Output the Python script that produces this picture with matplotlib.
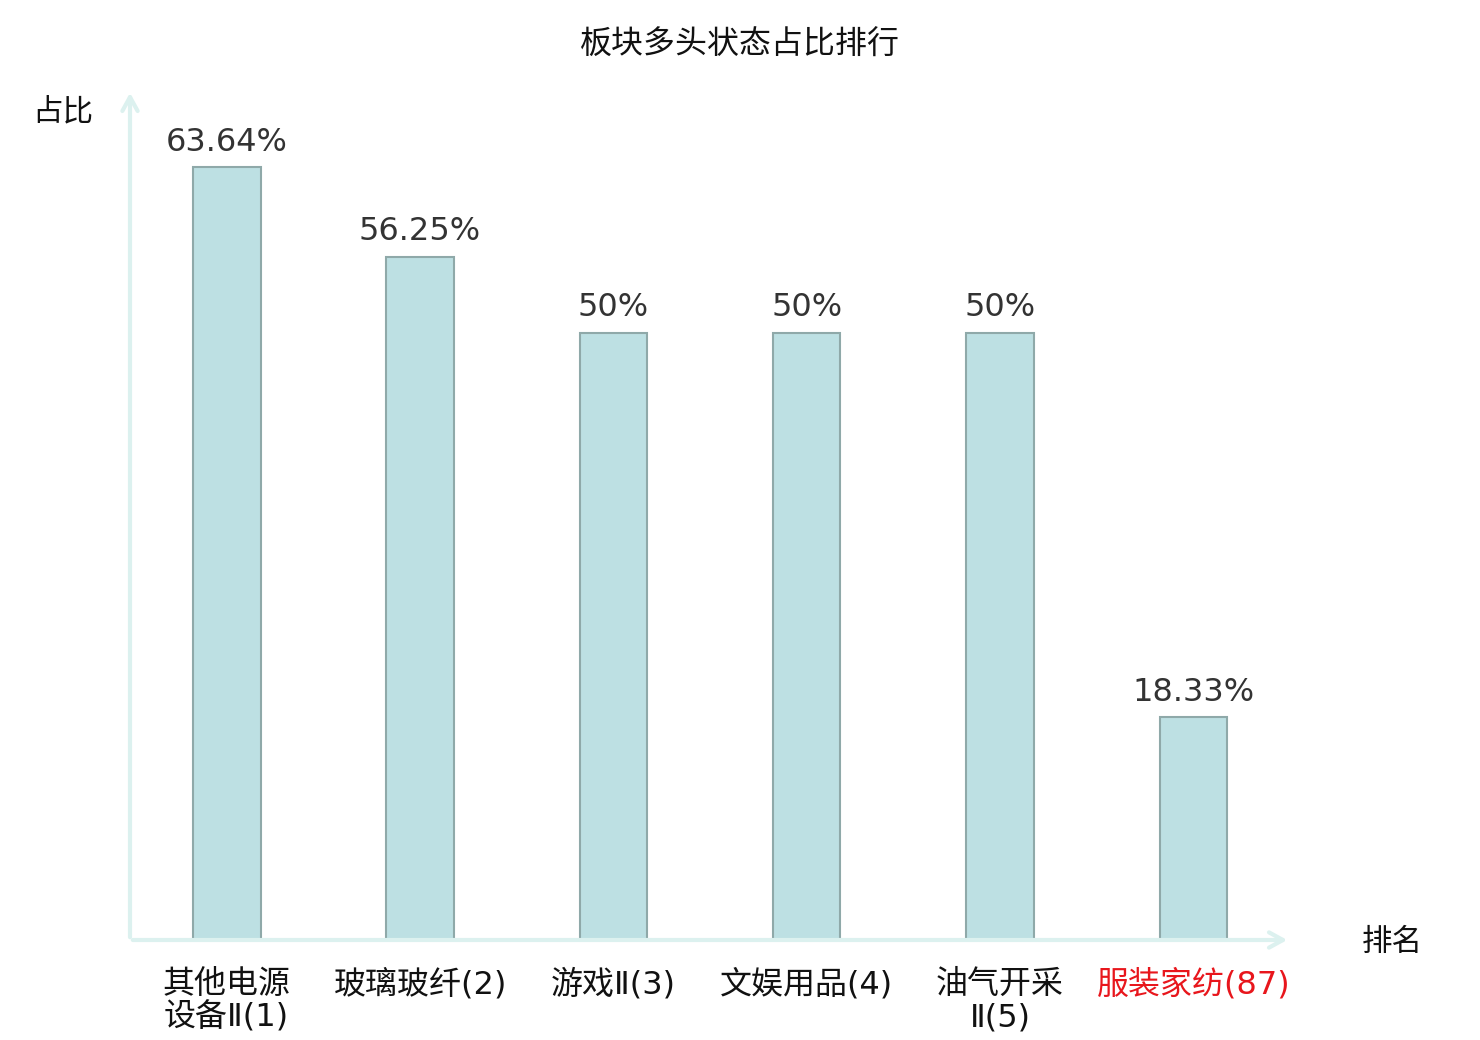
import matplotlib.pyplot as plt

plt.rcParams['font.family'] = ['Noto Sans CJK SC', 'DejaVu Sans']

# datos del gráfico
sectores = ['其他电源\n设备Ⅱ(1)', '玻璃玻纤(2)', '游戏Ⅱ(3)', '文娱用品(4)', '油气开采\nⅡ(5)', '服装家纺(87)']
valores = [63.64, 56.25, 50, 50, 50, 18.33]
etiquetas_valor = ['63.64%', '56.25%', '50%', '50%', '50%', '18.33%']
colores_texto = ['#111111', '#111111', '#111111', '#111111', '#111111', '#e8161c']

color_barra = '#bde0e3'
color_borde = '#8fa9a9'
color_eje = '#dcf1ef'

fig = plt.figure(figsize=(14.8, 10.4), dpi=100)
ax = fig.add_axes([130 / 1480, 100 / 1040, 1160 / 1480, 850 / 1040])

x = list(range(len(sectores)))
ax.bar(x, valores, width=0.35, color=color_barra, edgecolor=color_borde, linewidth=1.5, zorder=3)

for xi, v, txt in zip(x, valores, etiquetas_valor):
    ax.annotate(txt, (xi, v), xytext=(0, 7), textcoords='offset points',
                ha='center', va='bottom', fontsize=23, color='#333333',
                family='DejaVu Sans')

ax.set_xlim(-0.5, 5.5)
ax.set_ylim(0, 70)

for s in ax.spines.values():
    s.set_visible(False)
ax.set_yticks([])
ax.set_xticks(x)
ax.set_xticklabels(sectores, fontsize=23, linespacing=1.08,
                   family=['DejaVu Sans', 'Noto Sans CJK SC'])
for lbl, c in zip(ax.get_xticklabels(), colores_texto):
    lbl.set_color(c)
ax.tick_params(axis='x', length=0, pad=21)

# ejes con flechas
estilo = '->,head_length=1.0,head_width=0.55'
ax.annotate('', xy=(1.0, 0), xytext=(0, 0), xycoords='axes fraction',
            arrowprops=dict(arrowstyle=estilo, color=color_eje, lw=3),
            annotation_clip=False)
ax.annotate('', xy=(0, 1.0), xytext=(0, 0), xycoords='axes fraction',
            arrowprops=dict(arrowstyle=estilo, color=color_eje, lw=3),
            annotation_clip=False)

fig.text(63 / 1480, 1 - 112 / 1040, '占比', ha='center', va='center', fontsize=22, color='#111111')
fig.text(1392 / 1480, 1 - 942 / 1040, '排名', ha='center', va='center', fontsize=22, color='#111111')
fig.text(740 / 1480, 1 - 45 / 1040, '板块多头状态占比排行', ha='center', va='center', fontsize=23, color='#111111')

fig.savefig('out.png', dpi=100)
